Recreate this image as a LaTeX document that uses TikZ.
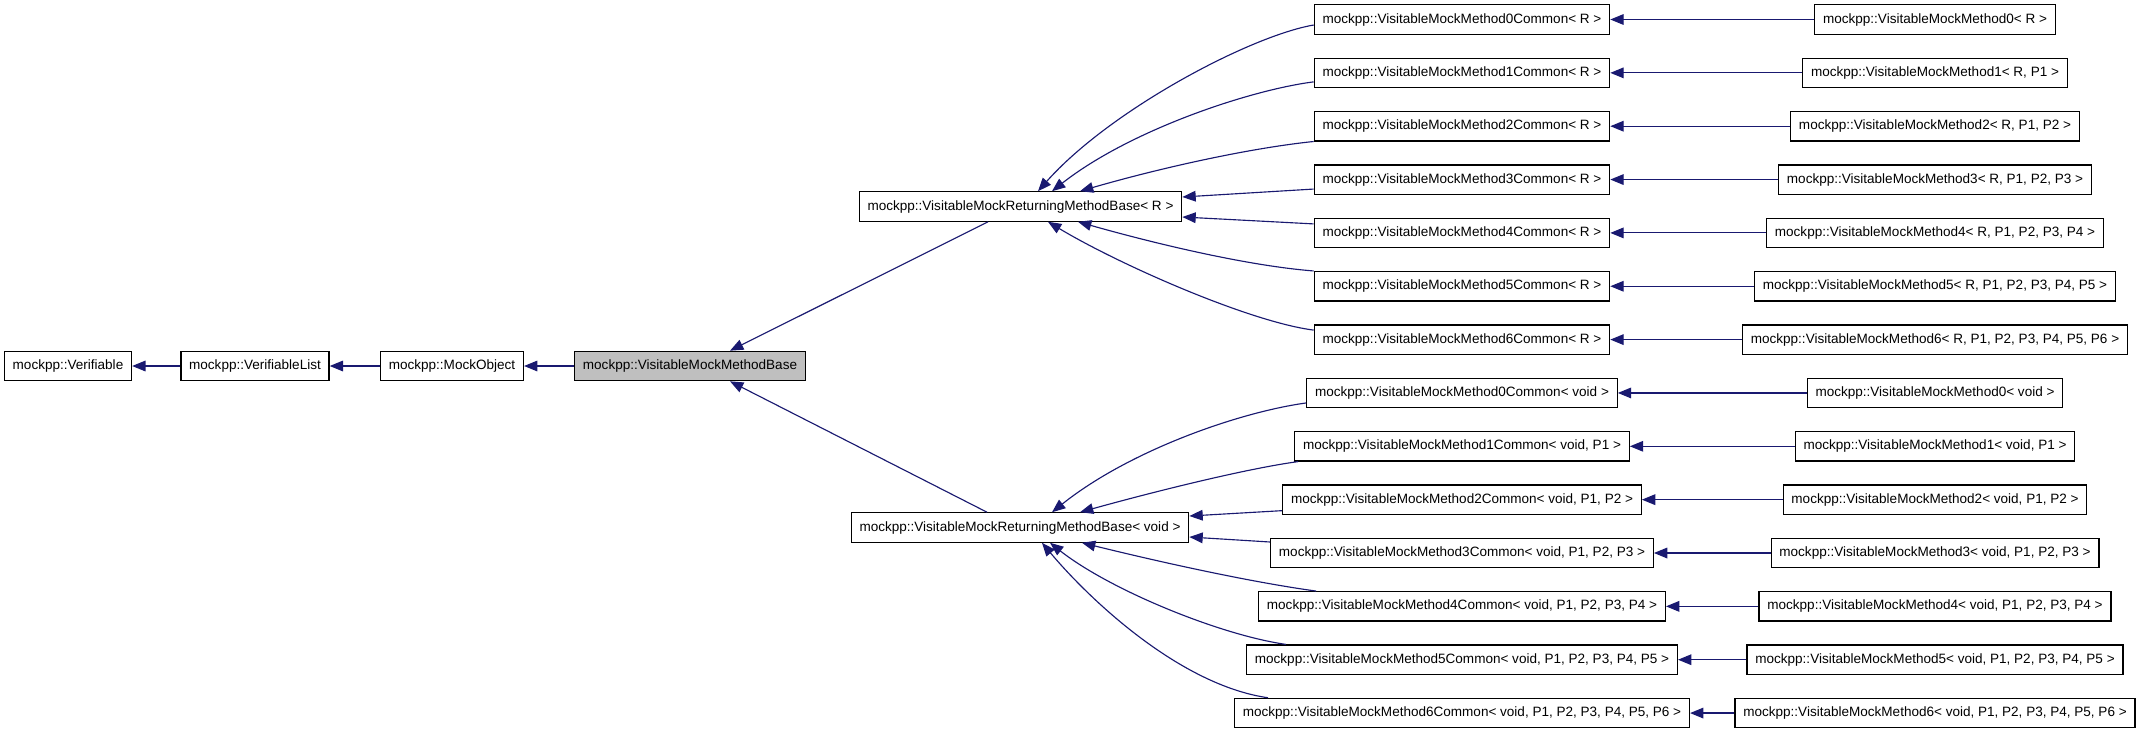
\documentclass[tikz,border=0pt]{standalone}
\usepackage{fontspec}
\setmainfont{Liberation Sans}
\usetikzlibrary{arrows.meta,calc}
\definecolor{edgeblue}{HTML}{191970}
\definecolor{cur}{HTML}{BFBFBF}

\begin{document}
\begin{tikzpicture}[x=0.75pt,y=-0.75pt,>={Triangle[length=10pt,width=8pt]},
  every node/.style={font=\fontsize{10.15}{12}\selectfont},
  cls/.style={draw,line width=0.95pt,inner xsep=6.2pt,inner ysep=0pt,minimum height=22pt},
  inh/.style={->,draw=edgeblue,line width=0.85pt}]
\useasboundingbox (0,0) rectangle (2141,733);
\def\ya{19.5}
\def\dy{53.35}
% base chain
\node[cls] (ver) at (68,366) {mockpp::Verifiable};
\node[cls] (verl) at (255,366) {mockpp::VerifiableList};
\node[cls] (mobj) at (452,366) {mockpp::MockObject};
\node[cls,fill=cur] (vmmb) at (690,366) {mockpp::VisitableMockMethodBase};
\node[cls] (retR) at (1020.5,206.5) {mockpp::VisitableMockReturningMethodBase< R >};
\node[cls] (retV) at (1020,527.5) {mockpp::VisitableMockReturningMethodBase< void >};
\draw[inh] (verl.west)--(ver.east);
\draw[inh] (mobj.west)--(verl.east);
\draw[inh] (vmmb.west)--(mobj.east);
\draw[inh] ($(retR.south)+(-32.5,0)$)--($(vmmb.north)+(40,0)$);
\draw[inh] ($(retV.north)+(-33,0)$)--($(vmmb.south)+(40,0)$);
% the two columns of templates
\foreach \k/\q in {0/{},1/{, P1},2/{, P1, P2},3/{, P1, P2, P3},4/{, P1, P2, P3, P4},5/{, P1, P2, P3, P4, P5},6/{, P1, P2, P3, P4, P5, P6}}{
\node[cls] (comR\k) at (1462,\ya+\dy*\k) {mockpp::VisitableMockMethod\k Common< R >};
\node[cls] (metR\k) at (1935,\ya+\dy*\k) {mockpp::VisitableMockMethod\k< R\q{} >};
\node[cls] (comV\k) at (1462,\ya+\dy*\k+7*\dy) {mockpp::VisitableMockMethod\k Common< void\q{} >};
\node[cls] (metV\k) at (1935,\ya+\dy*\k+7*\dy) {mockpp::VisitableMockMethod\k< void\q{} >};
\draw[inh] (metR\k.west)--(comR\k.east);
\draw[inh] (metV\k.west)--(comV\k.east);
}
% returning R
\draw[inh] ($(comR0.west)+(0,5.5)$) .. controls (1250,36) and (1110,110) .. ($(retR.north)+(17.5,0)$);
\draw[inh] ($(comR1.west)+(0,9)$) .. controls (1250,90) and (1130,130) .. ($(retR.north)+(31.5,0)$);
\draw[inh] (comR2.south west) .. controls (1250,148) and (1160,168) .. ($(retR.north)+(59.5,0)$);
\draw[inh] ($(comR3.west)+(0,9.5)$)--($(retR.east)+(0,-9.5)$);
\draw[inh] ($(comR4.west)+(0,-9)$)--($(retR.east)+(0,10.5)$);
\draw[inh] (comR5.north west) .. controls (1250,266) and (1160,245) .. ($(retR.south)+(57.5,0)$);
\draw[inh] ($(comR6.west)+(0,-9.5)$) .. controls (1250,322) and (1120,265) .. ($(retR.south)+(27.5,0)$);
% returning void
\draw[inh] ($(comV0.west)+(0,10)$) .. controls (1240,412) and (1130,450) .. ($(retV.north)+(32,0)$);
\draw[inh] ($(comV1.south west)+(4,0)$) .. controls (1250,468) and (1160,490) .. ($(retV.north)+(60,0)$);
\draw[inh] ($(comV2.west)+(0,11)$)--($(retV.east)+(0,-11.5)$);
\draw[inh] ($(comV3.west)+(0,-11)$)--($(retV.east)+(0,9.5)$);
\draw[inh] ($(comV4.north west)+(58,0)$) .. controls (1250,582) and (1160,562) .. ($(retV.south)+(62,0)$);
\draw[inh] ($(comV5.north west)+(40,0)$) .. controls (1220,635) and (1110,590) .. ($(retV.south)+(30,0)$);
\draw[inh] ($(comV6.north west)+(34,0)$) .. controls (1180,685) and (1090,600) .. ($(retV.south)+(22,0)$);
\end{tikzpicture}
\end{document}
